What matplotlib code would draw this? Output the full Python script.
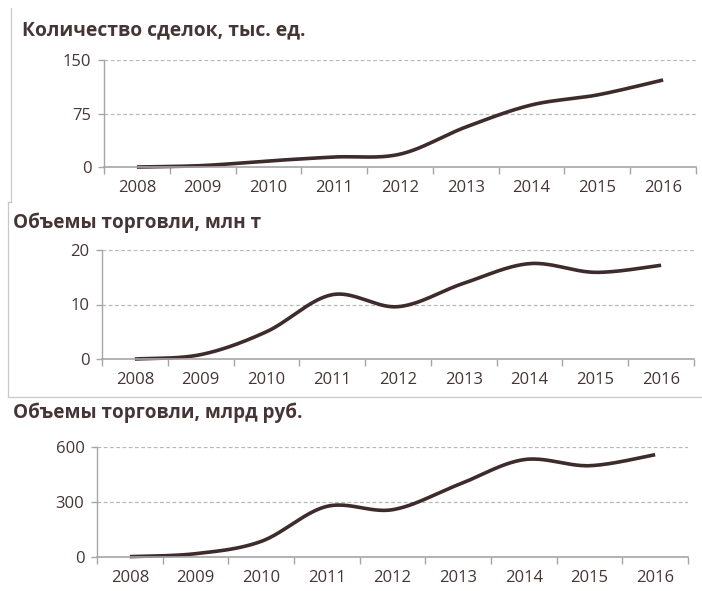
import numpy as np
import matplotlib
matplotlib.use('Agg')
import matplotlib.pyplot as plt
from matplotlib.lines import Line2D

years = ['2008', '2009', '2010', '2011', '2012', '2013', '2014', '2015', '2016']

deals = [0, 2, 8.5, 14, 18, 56, 87, 101, 122]          # тыс. ед.
volume_t = [0, 0.8, 5.0, 11.8, 9.6, 13.9, 17.5, 15.9, 17.2]   # млн т
volume_rub = [2, 18, 85, 276, 258, 394, 531, 498, 558]   # млрд руб.

titles = ['Количество сделок, тыс. ед.', 'Объемы торговли, млн т', 'Объемы торговли, млрд руб.']
yticks = [[0, 75, 150], [0, 10, 20], [0, 300, 600]]

text_col = '#463535'
line_col = '#3e2b2c'
axis_col = '#a6a6a6'

plt.rcParams['font.family'] = ['Open Sans', 'DejaVu Sans']

W, H = 702, 591


def smooth(y, n=40):
    # Excel-like smoothed line (Catmull-Rom as cubic Bezier)
    x = np.arange(len(y), dtype=float)
    p = np.column_stack([x, np.asarray(y, float)])
    out = []
    for i in range(len(p) - 1):
        p0 = p[i - 1] if i > 0 else p[i]
        p3 = p[i + 2] if i + 2 < len(p) else p[i + 1]
        c1 = p[i] + (p[i + 1] - p0) / 6
        c2 = p[i + 1] - (p3 - p[i]) / 6
        t = np.linspace(0, 1, n)[:, None]
        seg = ((1 - t) ** 3) * p[i] + 3 * ((1 - t) ** 2) * t * c1 + 3 * (1 - t) * t ** 2 * c2 + t ** 3 * p[i + 1]
        out.append(seg if i == 0 else seg[1:])
    s = np.vstack(out)
    return s[:, 0], s[:, 1]


fig = plt.figure(figsize=(W / 100, H / 100), dpi=100)

# left, right, top(max), bottom(0), title y, title x, title size
boxes = [(104, 696, 60, 167, 30, 22, 13.9),
         (102, 694, 250, 359, 223, 13, 13.6),
         (97, 688, 447, 557, 413, 13, 13.6)]
series = [deals, volume_t, volume_rub]

for (l, r, t, b, ty, tx, tsz), vals, ttl, yt in zip(boxes, series, titles, yticks):
    ax = fig.add_axes([l / W, 1 - b / H, (r - l) / W, (b - t) / H])
    xs, ys = smooth(vals)
    ax.plot(xs, ys, color=line_col, lw=2.6, solid_capstyle='butt', clip_on=False)
    ax.set_xlim(-0.5, len(years) - 0.5)
    ax.set_ylim(yt[0], yt[-1])
    ax.set_yticks(yt)
    ax.set_yticklabels([str(v) for v in yt])
    ax.set_xticks(range(len(years)))
    ax.set_xticklabels(years)
    ax.set_xticks(np.arange(-0.5, len(years)), minor=True)
    ax.tick_params(axis='x', which='major', length=0, pad=9, labelsize=12, labelcolor=text_col)
    ax.tick_params(axis='x', which='minor', length=5, width=1, color=axis_col, direction='out')
    ax.tick_params(axis='y', length=4, width=1, color=axis_col, pad=5, labelsize=12, labelcolor=text_col)
    for g in yt[1:]:
        ax.axhline(g, color='#b8b8b8', lw=0.9, ls=(0, (3, 2)), zorder=0)
    for s in ['top', 'right']:
        ax.spines[s].set_visible(False)
    ax.spines['left'].set_color(axis_col)
    ax.spines['bottom'].set_color(axis_col)
    ax.spines['left'].set_linewidth(1)
    ax.spines['bottom'].set_linewidth(1.2)
    fig.text(tx / W, 1 - ty / H, ttl, fontsize=tsz, fontweight='bold', color=text_col,
             va='center', ha='left')

# faint frame remnants of the source screenshots
fig.add_artist(Line2D([11 / W, 11 / W], [1 - 8 / H, 1 - 202 / H], color='#c8c8c8', lw=0.9))
fig.add_artist(Line2D([8 / W, 11 / W], [1 - 202 / H, 1 - 202 / H], color='#c8c8c8', lw=0.9))
fig.add_artist(Line2D([8 / W, 8 / W], [1 - 202 / H, 1 - 397 / H], color='#c8c8c8', lw=0.9))
fig.add_artist(Line2D([8 / W, 1], [1 - 397 / H, 1 - 397 / H], color='#c8c8c8', lw=0.9))

fig.savefig('out.png', dpi=100)
